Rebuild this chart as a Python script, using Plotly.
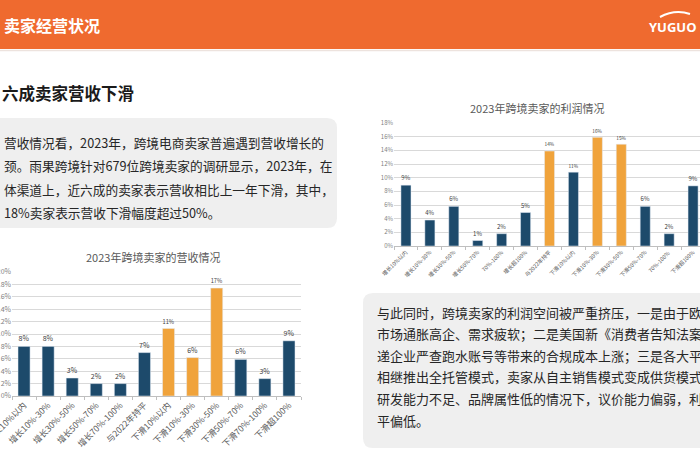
import plotly.graph_objects as go

# ---------------- data ----------------
rev_categories = ["增长10%以内", "增长10%-30%", "增长30%-50%", "增长50%-70%", "增长70%-100%",
                  "与2022年持平", "下滑10%以内", "下滑10%-30%", "下滑30%-50%", "下滑50%-70%",
                  "下滑70%-100%", "下滑超100%"]
rev_values = [8.0, 8.0, 2.9, 2.0, 2.0, 7.0, 10.9, 6.2, 17.4, 5.9, 2.8, 8.9]
rev_labels = ["8%", "8%", "3%", "2%", "2%", "7%", "11%", "6%", "17%", "6%", "3%", "9%"]

profit_categories = ["增长10%以内", "增长10%-30%", "增长30%-50%", "增长50%-70%", "70%-100%",
                     "增长超100%", "与2022年持平", "下滑10%以内", "下滑10%-30%", "下滑30%-50%",
                     "下滑50%-70%", "70%-100% ", "下滑超100%"]
profit_values = [8.9, 3.8, 5.8, 0.8, 1.8, 4.9, 13.9, 10.8, 15.9, 14.9, 5.8, 1.8, 8.8]
profit_labels = ["9%", "4%", "6%", "1%", "2%", "5%", "14%", "11%", "16%", "15%", "6%", "2%", "9%"]

rev_ticks = [0, 2, 4, 6, 8, 10, 12, 14, 16, 18, 20]
profit_ticks = [0, 2, 4, 6, 8, 10, 12, 14, 16, 18]

rev_highlight = {"下滑10%以内", "下滑10%-30%", "下滑30%-50%"}
profit_highlight = {"与2022年持平", "下滑10%-30%", "下滑30%-50%"}

header_title = "卖家经营状况"
sub_title = "六成卖家营收下滑"
left_text = ["营收情况看，2023年，跨境电商卖家普遍遇到营收增长的",
             "颈。雨果跨境针对679位跨境卖家的调研显示，2023年，在",
             "体渠道上，近六成的卖家表示营收相比上一年下滑，其中，",
             "18%卖家表示营收下滑幅度超过50%。"]
right_text = ["与此同时，跨境卖家的利润空间被严重挤压，一是由于欧美",
              "市场通胀高企、需求疲软；二是美国新《消费者告知法案》",
              "递企业严查跑水账号等带来的合规成本上涨；三是各大平",
              "相继推出全托管模式，卖家从自主销售模式变成供货模式",
              "研发能力不足、品牌属性低的情况下，议价能力偏弱，利润",
              "平偏低。"]

# ---------------- styles ----------------
W, H = 700, 470
NAVY = "#1D4A6B"
ORANGE = "#F0A33B"
HEADER = "#EF6A2F"
FONT = "Noto Sans CJK SC"

def px(x):
    return x / W

def py(y):
    return 1 - y / H

fig = go.Figure()

fig.add_trace(go.Bar(
    x=rev_categories, y=rev_values, text=rev_labels,
    marker_color=[ORANGE if c in rev_highlight else NAVY for c in rev_categories],
    width=0.5, textposition="outside", cliponaxis=False,
    textfont=dict(size=7, color="#404040"),
    xaxis="x", yaxis="y", showlegend=False, hoverinfo="skip"))

fig.add_trace(go.Bar(
    x=profit_categories, y=profit_values, text=profit_labels,
    marker_color=[ORANGE if c in profit_highlight else NAVY for c in profit_categories],
    width=0.42, textposition="outside", cliponaxis=False,
    textfont=dict(size=6, color="#404040"),
    xaxis="x2", yaxis="y2", showlegend=False, hoverinfo="skip"))

axis_common = dict(showgrid=False, showline=True, linecolor="#BFBFBF", linewidth=1,
                   ticks="outside", tickson="boundaries", ticklen=3, tickcolor="#BFBFBF",
                   tickangle=-45, fixedrange=True, automargin=False)

fig.update_layout(
    width=W, height=H, margin=dict(l=0, r=0, t=0, b=0, pad=0), autosize=False,
    paper_bgcolor="white", plot_bgcolor="rgba(0,0,0,0)",
    font=dict(family=FONT, color="#333333"),
    xaxis=dict(domain=[px(12), px(301)], range=[-0.5, 11.5],
               tickfont=dict(size=8.5, color="#595959"), anchor="y", **axis_common),
    yaxis=dict(domain=[py(396), py(272)], range=[0, 20], tickvals=rev_ticks,
               ticktext=[f"{v}%" for v in rev_ticks], showgrid=True, gridcolor="#D9D9D9",
               gridwidth=1, zeroline=False, tickfont=dict(size=7, color="#7F7F7F"),
               anchor="x", fixedrange=True, automargin=False),
    xaxis2=dict(domain=[px(394), 1], range=[-0.5, 12.29],
                tickfont=dict(size=5.5, color="#595959"), anchor="y2", **axis_common),
    yaxis2=dict(domain=[py(246), py(123)], range=[0, 18], tickvals=profit_ticks,
                ticktext=[f"{v}%" for v in profit_ticks], showgrid=True, gridcolor="#D9D9D9",
                gridwidth=1, zeroline=False, tickfont=dict(size=6, color="#7F7F7F"),
                anchor="x2", fixedrange=True, automargin=False),
)

shapes = [
    # header bar
    dict(type="rect", xref="paper", yref="paper", x0=0, x1=1, y0=py(49), y1=1,
         fillcolor=HEADER, line_width=0, layer="below"),
    dict(type="line", xref="paper", yref="paper", x0=0, x1=1, y0=py(50.5), y1=py(50.5),
         line=dict(color="#EDE3DE", width=1.5)),
    # text boxes (rounded)
    dict(type="path", xref="paper", yref="paper", layer="below", line_width=0,
         fillcolor="#EFEFEF",
         path=f"M {px(-20)},{py(118)} L {px(327)},{py(118)} Q {px(337)},{py(118)} {px(337)},{py(128)} "
              f"L {px(337)},{py(218)} Q {px(337)},{py(228)} {px(327)},{py(228)} L {px(-20)},{py(228)} Z"),
    dict(type="path", xref="paper", yref="paper", layer="below", line_width=0,
         fillcolor="#EFEFEF",
         path=f"M {px(373)},{py(293)} L {px(720)},{py(293)} L {px(720)},{py(448)} L {px(373)},{py(448)} "
              f"Q {px(363)},{py(448)} {px(363)},{py(438)} L {px(363)},{py(303)} Q {px(363)},{py(293)} {px(373)},{py(293)} Z"),
    # logo swoosh
    dict(type="path", xref="paper", yref="paper", line=dict(color="white", width=2),
         path=f"M {px(660)},{py(17)} Q {px(675)},{py(9)} {px(690)},{py(14)}"),
]
fig.update_layout(shapes=shapes)

ann = []
ann.append(dict(text=f"<b>{header_title}</b>", x=px(2), y=py(25), xref="paper", yref="paper",
                xanchor="left", yanchor="middle", showarrow=False,
                font=dict(size=16, color="white", family=FONT)))
ann.append(dict(text="<b>YUGUO</b>", x=px(699), y=py(27), xref="paper", yref="paper",
                xanchor="right", yanchor="middle", showarrow=False,
                font=dict(size=13, color="white", family="Open Sans")))
ann.append(dict(text=f"<b>{sub_title}</b>", x=px(0), y=py(93), xref="paper", yref="paper",
                xanchor="left", yanchor="middle", showarrow=False,
                font=dict(size=16.5, color="#1A1A1A", family=FONT)))
for i, line in enumerate(left_text):
    ann.append(dict(text=line, x=px(2), y=py(142 + i * 23.5), xref="paper", yref="paper",
                    xanchor="left", yanchor="middle", showarrow=False,
                    font=dict(size=12.7, color="#262626", family=FONT)))
for i, line in enumerate(right_text):
    ann.append(dict(text=line, x=px(375), y=py(312 + i * 21.6), xref="paper", yref="paper",
                    xanchor="left", yanchor="middle", showarrow=False,
                    font=dict(size=13, color="#262626", family=FONT)))
ann.append(dict(text="2023年跨境卖家的营收情况", x=px(153), y=py(257), xref="paper", yref="paper",
                xanchor="center", yanchor="middle", showarrow=False,
                font=dict(size=11, color="#595959", family=FONT)))
ann.append(dict(text="2023年跨境卖家的利润情况", x=px(537), y=py(108), xref="paper", yref="paper",
                xanchor="center", yanchor="middle", showarrow=False,
                font=dict(size=11, color="#595959", family=FONT)))
fig.update_layout(annotations=ann)

fig.write_html("out.html", config={"displayModeBar": False, "staticPlot": True},
               post_script="document.body.style.margin='0';")
